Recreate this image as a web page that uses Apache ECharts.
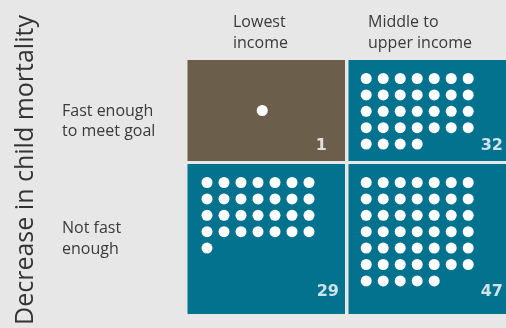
<!DOCTYPE html>
<html><head><meta charset="utf-8">
<script src="https://cdn.jsdelivr.net/npm/echarts@6/dist/echarts.min.js"></script>
<style>html,body{margin:0;padding:0;background:#e7e7e8}#c{width:506px;height:328px}</style>
</head><body><div id="c"></div>
<script>
// ---- data ----
var colLabels = ['Lowest\nincome', 'Middle to\nupper income'];
var rowLabels = ['Fast enough\nto meet goal', 'Not fast\nenough'];
var axisTitle = 'Decrease in child mortality';
// counts[row][col]
var counts = [[1, 32], [29, 47]];
var panelColors = [['#6b5f4b', '#03728f'], ['#03728f', '#03728f']];

// ---- layout (pixel-like units on hidden value axes) ----
var colX = [[0.5, 158], [161.5, 319]];
var rowY = [[0, 101], [104, 254]];
var dotOffX = [19.5, 17.7], dotOffY = 18.5, dotDX = 17, dotDY = 16.4, perRow = 7;
var numRight = [[140, 316], [152, 316]], numUp = [15, 22];

var panels = [], dots = [], nums = [];
for (var r = 0; r < 2; r++) for (var c = 0; c < 2; c++) {
  var n = counts[r][c];
  panels.push({value: [colX[c][0], rowY[r][0], colX[c][1], rowY[r][1]], itemStyle: {color: panelColors[r][c]}});
  if (n === 1) {
    dots.push([(colX[c][0] + colX[c][1]) / 2 - 4, (rowY[r][0] + rowY[r][1]) / 2]);
  } else {
    for (var i = 0; i < n; i++) {
      dots.push([colX[c][0] + dotOffX[c] + dotDX * (i % perRow), rowY[r][0] + dotOffY + dotDY * Math.floor(i / perRow)]);
    }
  }
  nums.push({value: [numRight[r][c], rowY[r][1] - numUp[r]], label: {formatter: String(n)}});
}

var chart = echarts.init(document.getElementById('c'), null, {renderer: 'canvas'});
var txt = '#3a3a3a', fam = '"Open Sans", sans-serif';
chart.setOption({
  backgroundColor: '#e7e7e8',
  animation: false,
  grid: {left: 187, top: 60, width: 319, height: 254},
  xAxis: {type: 'value', min: 0, max: 319, show: false},
  yAxis: {type: 'value', min: 0, max: 254, inverse: true, show: false},
  series: [
    {type: 'custom', data: panels, clip: false,
      renderItem: function (p, api) {
        var a = api.coord([api.value(0), api.value(1)]), b = api.coord([api.value(2), api.value(3)]);
        return {type: 'rect', shape: {x: a[0], y: a[1], width: b[0] - a[0], height: b[1] - a[1]}, style: {fill: api.visual('color')}};
      }},
    {type: 'scatter', data: dots, symbol: 'circle', symbolSize: 11, itemStyle: {color: '#ffffff', opacity: 1}, silent: true},
    {type: 'scatter', data: nums, symbolSize: 0, silent: true,
      label: {show: true, position: 'inside', align: 'right', verticalAlign: 'middle', color: '#ffffff',
        fontFamily: '"DejaVu Sans", sans-serif', fontWeight: 'bold', fontSize: 16}}
  ],
  graphic: [
    {type: 'text', x: 26, y: 170, rotation: Math.PI / 2,
      style: {text: axisTitle, fill: '#333', font: '25px ' + fam, align: 'center', verticalAlign: 'middle'}},
    {type: 'text', x: 233, y: 11.5, style: {text: colLabels[0], fill: txt, font: '16px ' + fam, lineHeight: 21}},
    {type: 'text', x: 368, y: 11.5, style: {text: colLabels[1], fill: txt, font: '16px ' + fam, lineHeight: 21}},
    {type: 'text', x: 62, y: 101.7, style: {text: rowLabels[0], fill: txt, font: '16px ' + fam, lineHeight: 20}},
    {type: 'text', x: 62, y: 217.5, style: {text: rowLabels[1], fill: txt, font: '16px ' + fam, lineHeight: 21}}
  ]
});
</script></body></html>
